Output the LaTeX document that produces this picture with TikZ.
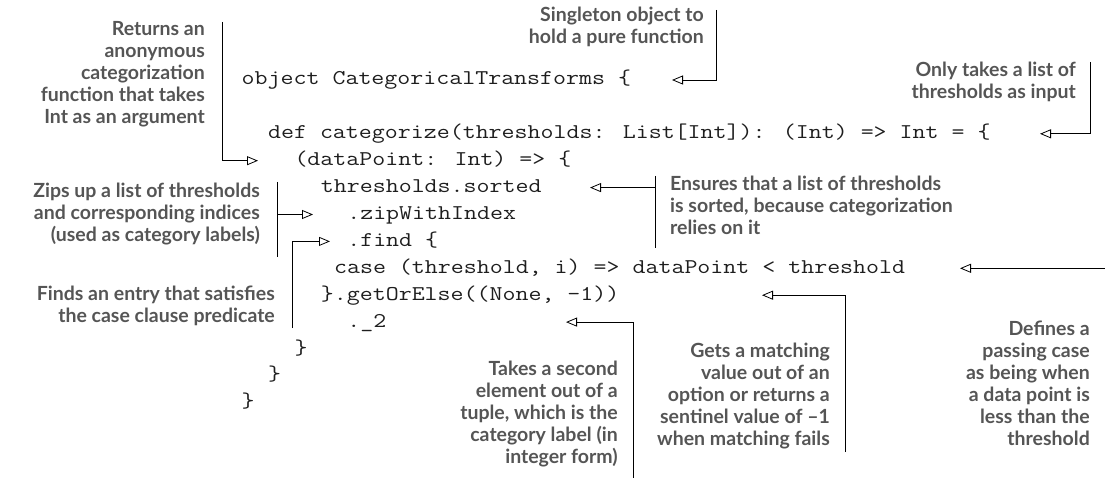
\documentclass[tikz,border=0pt]{standalone}
\usepackage{fontspec}
\usetikzlibrary{arrows.meta}
\newfontfamily\notefont{Lato}
\newfontfamily\codefont{Latin Modern Mono}[FakeStretch=1.2]
\definecolor{notegray}{HTML}{555555}
\definecolor{codeink}{HTML}{1E1E1E}
\tikzset{
  code/.style={anchor=base west, inner sep=0pt, text=codeink,
    font=\codefont\fontsize{21}{27}\selectfont},
  note/.style={inner sep=0pt, text=notegray,
    font=\notefont\bfseries\fontsize{19.5}{22}\selectfont},
  noteR/.style={note, align=right, anchor=north east},
  noteL/.style={note, align=left, anchor=north west},
  rule/.style={draw=black, line width=0.8pt},
  callout/.style={rule, -{Triangle[open,length=11pt,width=9pt]}},
}
\begin{document}
\begin{tikzpicture}[x=1pt,y=-1pt]
\useasboundingbox (0,0) rectangle (1105,478);

% ---- code listing (columns of 13.2pt, rows of 26.9pt) ----
\node[code] (c0)  at (241.5, 85.0) {object CategoricalTransforms \{};
\node[code] (c1)  at (267.9,138.8) {def categorize(thresholds: List[Int]): (Int) => Int = \{};
\node[code] (c2)  at (294.3,165.7) {(dataPoint: Int) => \{};
\node[code] (c3)  at (320.7,192.6) {thresholds.sorted};
\node[code] (c4)  at (347.1,219.5) {.zipWithIndex};
\node[code] (c5)  at (347.1,246.4) {.find \{};
\node[code] (c6)  at (333.9,273.3) {case (threshold, i) => dataPoint < threshold};
\node[code] (c7)  at (320.7,300.2) {\}.getOrElse((None, -1))};
\node[code] (c8)  at (347.1,327.1) {.\_2};
\node[code] (c9)  at (294.3,354.0) {\}};
\node[code] (c10) at (267.9,380.9) {\}};
\node[code] (c11) at (241.5,407.8) {\}};

% ---- annotations ----
\node[noteR] (n1) at (205, 21) {Returns an\\anonymous\\categorization\\function that takes\\Int as an argument};
\node[noteR] (n2) at (704,  7) {Singleton object to\\hold a pure function};
\node[noteR] (n3) at (1076,62) {Only takes a list of\\thresholds as input};
\node[noteR] (n4) at (260,183) {Zips up a list of thresholds\\and corresponding indices\\(used as category labels)};
\node[noteL] (n5) at (670,176) {Ensures that a list of thresholds\\is sorted, because categorization\\relies on it};
\node[noteR] (n6) at (275,286) {Finds an entry that satisfies\\the case clause predicate};
\node[noteR] (n7) at (618,361) {Takes a second\\element out of a\\tuple, which is the\\category label (in\\integer form)};
\node[noteR] (n8) at (830,343) {Gets a matching\\value out of an\\option or returns a\\sentinel value of –1\\when matching fails};
\node[noteR] (n9) at (1090,321) {Defines a\\passing case\\as being when\\a data point is\\less than the\\threshold};

% ---- connector points ----
\coordinate (p1) at (222, 22);    \coordinate (t1) at (258,160.7);
\coordinate (p2) at (716, 10);    \coordinate (t2) at (672, 80.0);
\coordinate (p3) at (1090,62);    \coordinate (t3) at (1040,133.8);
\coordinate (z1) at (277,182);    \coordinate (z2) at (277,257);
\coordinate (z3) at (277,214.5);  \coordinate (t4) at (313,214.5);
\coordinate (e1) at (655,176);    \coordinate (e2) at (655,248);
\coordinate (e3) at (655,187.6);  \coordinate (t5) at (590,187.6);
\coordinate (p6) at (292,328);    \coordinate (t6) at (330,241.4);
\coordinate (p7) at (633,478);    \coordinate (t7) at (566,322.1);
\coordinate (p8) at (845,452);    \coordinate (t8) at (762,295.2);
\coordinate (p9) at (1105,268.3); \coordinate (t9) at (960,268.3);

% ---- connectors ----
\draw[callout] (p1) |- (t1);
\draw[callout] (p2) |- (t2);
\draw[callout] (p3) |- (t3);
\draw[rule] (z1) -- (z2);
\draw[callout] (z3) -- (t4);
\draw[rule] (e1) -- (e2);
\draw[callout] (e3) -- (t5);
\draw[callout] (p6) |- (t6);
\draw[callout] (p7) |- (t7);
\draw[callout] (p8) |- (t8);
\draw[callout] (p9) -- (t9);
\end{tikzpicture}
\end{document}
